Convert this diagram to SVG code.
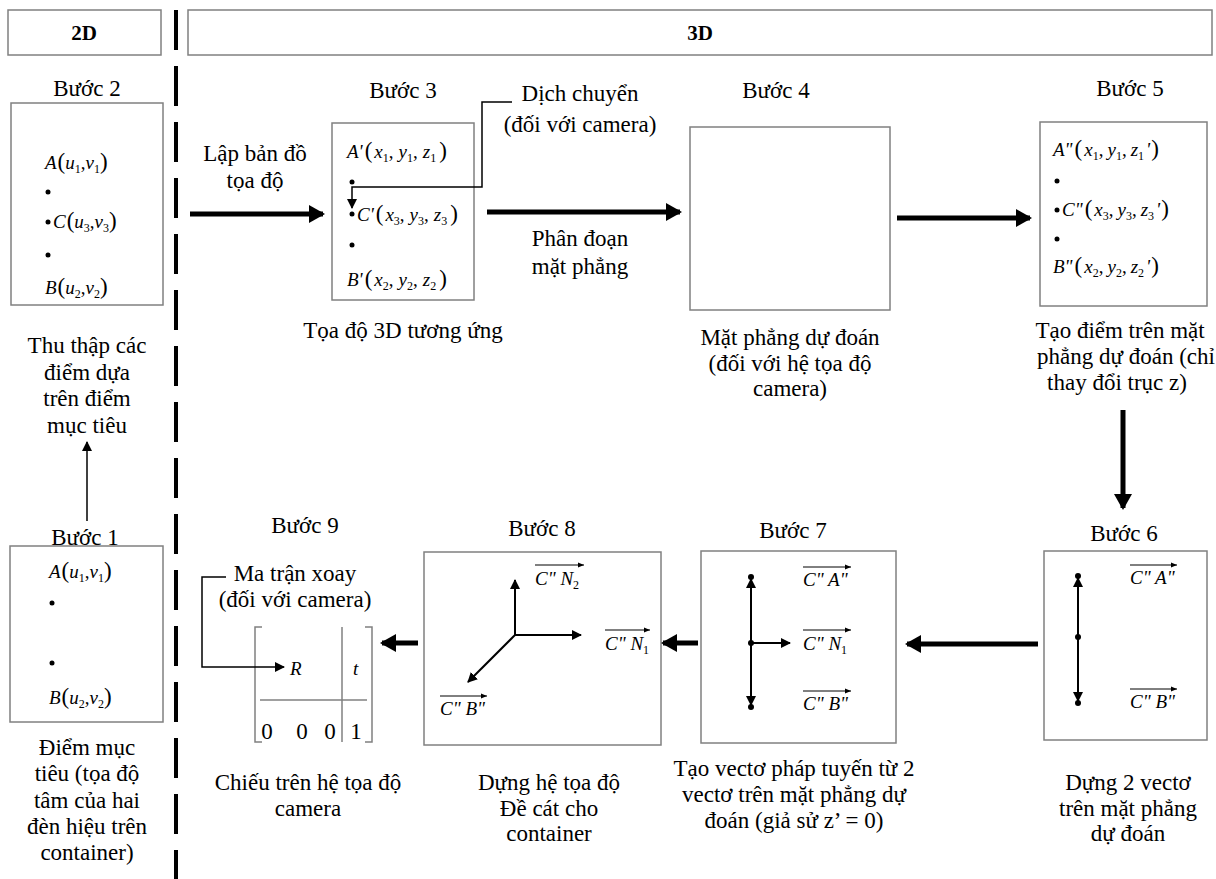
<svg xmlns="http://www.w3.org/2000/svg" width="1216" height="879" viewBox="0 0 1216 879">
<style>
text{font-family:"Liberation Serif","Times New Roman",serif}
.t{font-size:23px;fill:#000;text-anchor:middle}
.h{font-size:21px;font-weight:bold;fill:#000;text-anchor:middle}
.m{font-size:19px;font-style:italic;fill:#000}
.n{font-style:normal}
.p{font-style:normal;font-size:23px}
.s{font-size:12px;font-style:normal}
.box{fill:#fff;stroke:#808080;stroke-width:1.5}
.thick{stroke:#000;stroke-width:5;fill:none}
.thin{stroke:#000;stroke-width:1.5;fill:none}
.mid{stroke:#000;stroke-width:2;fill:none}
.ov{stroke:#000;stroke-width:1;fill:none}
</style>
<defs>
<marker id="big" markerUnits="userSpaceOnUse" markerWidth="16" markerHeight="18" refX="14" refY="9" orient="auto"><path d="M0,0 L16,9 L0,18 Z" fill="#000"/></marker>
<marker id="sm" markerUnits="userSpaceOnUse" markerWidth="10" markerHeight="10" refX="9" refY="5" orient="auto"><path d="M0,0 L10,5 L0,10 Z" fill="#000"/></marker>
<marker id="tiny" markerUnits="userSpaceOnUse" markerWidth="6" markerHeight="6" refX="6" refY="3" orient="auto"><path d="M0,0.5 L6,3 L0,5.5 Z" fill="#000"/></marker>
</defs>
<rect width="1216" height="879" fill="#fff"/>

<g id="headers">
<rect class="box" x="8" y="10" width="153" height="45"/>
<text class="h" x="84" y="40">2D</text>
<rect class="box" x="188" y="10" width="1024" height="45"/>
<text class="h" x="700" y="40">3D</text>
<line x1="176" y1="10" x2="176" y2="879" stroke="#000" stroke-width="4" stroke-dasharray="40 16"/>
</g>

<g id="step2">
<text class="t" x="87" y="96">Bước 2</text>
<rect class="box" x="11" y="103" width="152" height="202"/>
<text class="m" x="45" y="169">A<tspan class="p" dx="1">(</tspan>u<tspan class="s" dy="4">1</tspan><tspan class="n" dy="-4">,</tspan>v<tspan class="s" dy="4">1</tspan><tspan class="p" dy="-4">)</tspan></text>
<circle cx="48" cy="192" r="2.5"/>
<circle cx="48" cy="222" r="2.5"/>
<text class="m" x="53" y="228">C<tspan class="p" dx="1">(</tspan>u<tspan class="s" dy="4">3</tspan><tspan class="n" dy="-4">,</tspan>v<tspan class="s" dy="4">3</tspan><tspan class="p" dy="-4">)</tspan></text>
<circle cx="48" cy="255" r="2.5"/>
<text class="m" x="45" y="294">B<tspan class="p" dx="1">(</tspan>u<tspan class="s" dy="4">2</tspan><tspan class="n" dy="-4">,</tspan>v<tspan class="s" dy="4">2</tspan><tspan class="p" dy="-4">)</tspan></text>
<text class="t" x="87" y="353">Thu thập các</text>
<text class="t" x="87" y="380">điểm dựa</text>
<text class="t" x="87" y="406">trên điểm</text>
<text class="t" x="87" y="433">mục tiêu</text>
</g>

<g id="step1">
<text class="t" x="85" y="545">Bước 1</text>
<rect class="box" x="10" y="546" width="153" height="176"/>
<text class="m" x="49" y="578">A<tspan class="p" dx="1">(</tspan>u<tspan class="s" dy="4">1</tspan><tspan class="n" dy="-4">,</tspan>v<tspan class="s" dy="4">1</tspan><tspan class="p" dy="-4">)</tspan></text>
<circle cx="52" cy="603" r="2.5"/>
<circle cx="52" cy="663" r="2.5"/>
<text class="m" x="49" y="704">B<tspan class="p" dx="1">(</tspan>u<tspan class="s" dy="4">2</tspan><tspan class="n" dy="-4">,</tspan>v<tspan class="s" dy="4">2</tspan><tspan class="p" dy="-4">)</tspan></text>
<text class="t" x="87" y="755">Điểm mục</text>
<text class="t" x="87" y="781">tiêu (tọa độ</text>
<text class="t" x="87" y="808">tâm của hai</text>
<text class="t" x="87" y="834">đèn hiệu trên</text>
<text class="t" x="87" y="860">container)</text>
</g>

<g id="step3">
<text class="t" x="403" y="98">Bước 3</text>
<rect class="box" x="332" y="123" width="142" height="177"/>
<text class="m" x="347" y="158">A'<tspan class="p" dx="2">(</tspan><tspan dx="2">x</tspan><tspan class="s" dy="4">1</tspan><tspan class="n" dy="-4">,</tspan><tspan dx="5">y</tspan><tspan class="s" dy="4">1</tspan><tspan class="n" dy="-4">,</tspan><tspan dx="5">z</tspan><tspan class="s" dy="4">1</tspan><tspan class="p" dx="3" dy="-4">)</tspan></text>
<circle cx="352" cy="182" r="2.5"/>
<circle cx="352" cy="214" r="2.5"/>
<text class="m" x="357" y="221">C'<tspan class="p" dx="2">(</tspan><tspan dx="2">x</tspan><tspan class="s" dy="4">3</tspan><tspan class="n" dy="-4">,</tspan><tspan dx="5">y</tspan><tspan class="s" dy="4">3</tspan><tspan class="n" dy="-4">,</tspan><tspan dx="5">z</tspan><tspan class="s" dy="4">3</tspan><tspan class="p" dx="3" dy="-4">)</tspan></text>
<circle cx="352" cy="245" r="2.5"/>
<text class="m" x="347" y="286">B'<tspan class="p" dx="2">(</tspan><tspan dx="2">x</tspan><tspan class="s" dy="4">2</tspan><tspan class="n" dy="-4">,</tspan><tspan dx="5">y</tspan><tspan class="s" dy="4">2</tspan><tspan class="n" dy="-4">,</tspan><tspan dx="5">z</tspan><tspan class="s" dy="4">2</tspan><tspan class="p" dx="3" dy="-4">)</tspan></text>
<text class="t" x="403" y="338">Tọa độ 3D tương ứng</text>
</g>

<g id="step4">
<text class="t" x="776" y="98">Bước 4</text>
<rect class="box" x="690" y="127" width="200" height="183"/>
<text class="t" x="790" y="345">Mặt phẳng dự đoán</text>
<text class="t" x="790" y="371">(đối với hệ tọa độ</text>
<text class="t" x="790" y="396">camera)</text>
</g>

<g id="step5">
<text class="t" x="1130" y="96">Bước 5</text>
<rect class="box" x="1040" y="122" width="167" height="184"/>
<text class="m" x="1053" y="156">A"<tspan class="p" dx="2">(</tspan><tspan dx="2">x</tspan><tspan class="s" dy="4">1</tspan><tspan class="n" dy="-4">,</tspan><tspan dx="4">y</tspan><tspan class="s" dy="4">1</tspan><tspan class="n" dy="-4">,</tspan><tspan dx="4">z</tspan><tspan class="s" dy="4">1</tspan><tspan dx="2" dy="-4">'</tspan><tspan class="p" dx="1">)</tspan></text>
<circle cx="1057" cy="181" r="2.5"/>
<circle cx="1057" cy="210" r="2.5"/>
<text class="m" x="1062" y="216">C"<tspan class="p" dx="2">(</tspan><tspan dx="2">x</tspan><tspan class="s" dy="4">3</tspan><tspan class="n" dy="-4">,</tspan><tspan dx="4">y</tspan><tspan class="s" dy="4">3</tspan><tspan class="n" dy="-4">,</tspan><tspan dx="4">z</tspan><tspan class="s" dy="4">3</tspan><tspan dx="2" dy="-4">'</tspan><tspan class="p" dx="1">)</tspan></text>
<circle cx="1057" cy="239" r="2.5"/>
<text class="m" x="1053" y="273">B"<tspan class="p" dx="2">(</tspan><tspan dx="2">x</tspan><tspan class="s" dy="4">2</tspan><tspan class="n" dy="-4">,</tspan><tspan dx="4">y</tspan><tspan class="s" dy="4">2</tspan><tspan class="n" dy="-4">,</tspan><tspan dx="4">z</tspan><tspan class="s" dy="4">2</tspan><tspan dx="2" dy="-4">'</tspan><tspan class="p" dx="1">)</tspan></text>
<text class="t" x="1120" y="338">Tạo điểm trên mặt</text>
<text class="t" x="1126" y="364">phẳng dự đoán (chỉ</text>
<text class="t" x="1117" y="390">thay đổi trục z)</text>
</g>

<g id="step6">
<text class="t" x="1124" y="541">Bước 6</text>
<rect class="box" x="1044" y="551" width="163" height="189"/>
<line class="mid" x1="1078" y1="637" x2="1078" y2="578" marker-end="url(#sm)"/>
<line class="mid" x1="1078" y1="637" x2="1078" y2="701" marker-end="url(#sm)"/>
<circle cx="1078" cy="576" r="3"/><circle cx="1078" cy="637" r="3"/><circle cx="1078" cy="703" r="3"/>
<text class="m" x="1130" y="584">C" A"</text>
<line class="ov" x1="1130" y1="565" x2="1177" y2="565" marker-end="url(#tiny)"/>
<text class="m" x="1130" y="708">C" B"</text>
<line class="ov" x1="1130" y1="689" x2="1177" y2="689" marker-end="url(#tiny)"/>
<text class="t" x="1128" y="790">Dựng 2 vectơ</text>
<text class="t" x="1128" y="816">trên mặt phẳng</text>
<text class="t" x="1128" y="841">dự đoán</text>
</g>

<g id="step7">
<text class="t" x="793" y="538">Bước 7</text>
<rect class="box" x="701" y="551" width="195" height="192"/>
<line class="mid" x1="751" y1="643" x2="751" y2="579" marker-end="url(#sm)"/>
<line class="mid" x1="751" y1="643" x2="751" y2="705" marker-end="url(#sm)"/>
<line class="mid" x1="751" y1="643" x2="790" y2="643" marker-end="url(#sm)"/>
<circle cx="751" cy="577" r="3"/><circle cx="751" cy="643" r="3"/><circle cx="751" cy="707" r="3"/>
<text class="m" x="803" y="586">C" A"</text>
<line class="ov" x1="803" y1="567" x2="851" y2="567" marker-end="url(#tiny)"/>
<text class="m" x="803" y="650">C" N<tspan class="s" dy="4">1</tspan></text>
<line class="ov" x1="803" y1="630" x2="851" y2="630" marker-end="url(#tiny)"/>
<text class="m" x="803" y="710">C" B"</text>
<line class="ov" x1="803" y1="691" x2="851" y2="691" marker-end="url(#tiny)"/>
<text class="t" x="794" y="776">Tạo vectơ pháp tuyến từ 2</text>
<text class="t" x="794" y="802">vectơ trên mặt phẳng dự</text>
<text class="t" x="794" y="828">đoán (giả sử z’ = 0)</text>
</g>

<g id="step8">
<text class="t" x="542" y="536">Bước 8</text>
<rect class="box" x="424" y="552" width="237" height="193"/>
<line class="mid" x1="515" y1="635" x2="515" y2="580" marker-end="url(#sm)"/>
<line class="mid" x1="515" y1="635" x2="581" y2="635" marker-end="url(#sm)"/>
<line class="mid" x1="515" y1="635" x2="468" y2="682" marker-end="url(#sm)"/>
<text class="m" x="535" y="585">C" N<tspan class="s" dy="4">2</tspan></text>
<line class="ov" x1="535" y1="565" x2="584" y2="565" marker-end="url(#tiny)"/>
<text class="m" x="605" y="650">C" N<tspan class="s" dy="4">1</tspan></text>
<line class="ov" x1="605" y1="630" x2="650" y2="630" marker-end="url(#tiny)"/>
<text class="m" x="440" y="715">C" B"</text>
<line class="ov" x1="440" y1="696" x2="487" y2="696" marker-end="url(#tiny)"/>
<text class="t" x="549" y="790">Dựng hệ tọa độ</text>
<text class="t" x="549" y="816">Đề cát cho</text>
<text class="t" x="549" y="841">container</text>
</g>

<g id="step9">
<text class="t" x="305" y="533">Bước 9</text>
<text class="t" x="295" y="581">Ma trận xoay</text>
<text class="t" x="295" y="607">(đối với camera)</text>
<path d="M262,627 H255 V742 H262 M365,627 H372 V742 H365" stroke="#808080" stroke-width="1.5" fill="none"/>
<line x1="342" y1="627" x2="342" y2="742" stroke="#808080" stroke-width="1.5"/>
<line x1="260" y1="700" x2="367" y2="700" stroke="#808080" stroke-width="1.5"/>
<text class="m" x="290" y="675">R</text>
<text class="m" x="353" y="675">t</text>
<text class="t" x="267" y="739" font-size="20">0</text>
<text class="t" x="302" y="739" font-size="20">0</text>
<text class="t" x="330" y="739" font-size="20">0</text>
<text class="t" x="356" y="739" font-size="20">1</text>
<text class="t" x="308" y="790">Chiếu trên hệ tọa độ</text>
<text class="t" x="308" y="816">camera</text>
</g>

<g id="notes">
<text class="t" x="255" y="161">Lập bản đồ</text>
<text class="t" x="255" y="188">tọa độ</text>
<text class="t" x="580" y="101">Dịch chuyển</text>
<text class="t" x="580" y="132">(đối với camera)</text>
<text class="t" x="580" y="246">Phân đoạn</text>
<text class="t" x="580" y="274">mặt phẳng</text>
</g>

<g id="connectors">
<line class="thick" x1="190" y1="214" x2="323" y2="214" marker-end="url(#big)"/>
<line class="thick" x1="487" y1="212" x2="680" y2="212" marker-end="url(#big)"/>
<line class="thick" x1="897" y1="218" x2="1030" y2="218" marker-end="url(#big)"/>
<line class="thick" x1="1123" y1="410" x2="1123" y2="508" marker-end="url(#big)"/>
<line class="thick" x1="1038" y1="644" x2="907" y2="644" marker-end="url(#big)"/>
<line class="thick" x1="698" y1="643" x2="663" y2="643" marker-end="url(#big)"/>
<line class="thick" x1="418" y1="643" x2="382" y2="643" marker-end="url(#big)"/>
<line class="thin" x1="87" y1="521" x2="87" y2="442" marker-end="url(#sm)"/>
<path class="thin" d="M512,102 H482 V187 H352 V208" marker-end="url(#sm)"/>
<path class="thin" d="M226,577 H202 V667 H284" marker-end="url(#sm)"/>
</g>
</svg>
